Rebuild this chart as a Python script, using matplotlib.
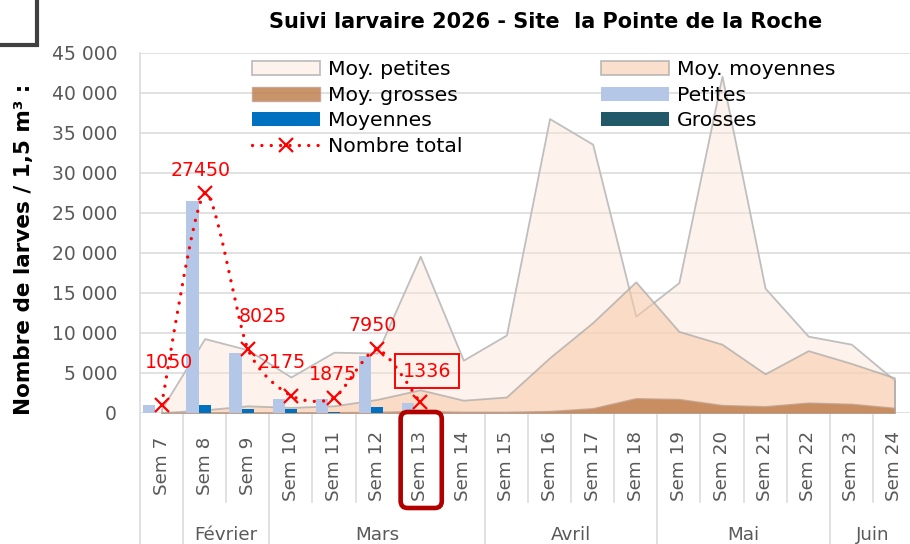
import numpy as np
import matplotlib
matplotlib.use('Agg')
import matplotlib.pyplot as plt
import matplotlib.transforms as mtransforms
from matplotlib.path import Path
from matplotlib.patches import PathPatch, Rectangle, FancyBboxPatch
from matplotlib.lines import Line2D
from matplotlib.colors import to_rgba

plt.rcParams['font.family'] = ['DejaVu Sans']

# données
weeks = [f"Sem {w}" for w in range(7, 25)]
months = ['', 'Février', 'Mars', 'Avril', 'Mai', 'Juin']
month_sizes = [1, 2, 5, 4, 4, 2]

moy_petites = [500, 9300, 7900, 4500, 7600, 7500, 19600, 6600, 9750,
               36800, 33600, 12100, 16300, 42100, 15600, 9600, 8600, 4100]
moy_moyennes = [50, 400, 900, 700, 900, 1700, 2900, 1600, 2000,
                6900, 11300, 16400, 10200, 8600, 4900, 7800, 6200, 4400]
moy_grosses = [0, 50, 100, 80, 100, 150, 250, 150, 150,
               250, 600, 1850, 1750, 1000, 850, 1300, 1150, 650]

petites = [1000, 26500, 7500, 1725, 1800, 7150, 1250]
moyennes = [50, 950, 525, 450, 75, 800, 86]
grosses = [0, 0, 0, 0, 0, 0, 0]
total = [1050, 27450, 8025, 2175, 1875, 7950, 1336]
highlight = 'Sem 13'

# décalage des étiquettes (pixels)
label_offsets = [(8, 42), (-4, 23), (15, 32), (-9, 33), (-1, 23), (-4, 24), (7, 31)]

W, H = 910, 544
fig = plt.figure(figsize=(W / 100, H / 100), dpi=100)
ax = fig.add_axes([140 / W, 1 - 413 / H, 776 / W, 360 / H])

x = np.arange(len(weeks))
xb = np.arange(len(total))
grid_c = '#D9D9D9'
txt_c = '#595959'

# zones (moyennes)
a1 = ax.fill_between(x, 0, moy_petites, facecolor=to_rgba('#FBE5D6', 0.45),
                     edgecolor='#BFBFBF', lw=1.3, zorder=1)
a2 = ax.fill_between(x, 0, moy_moyennes, facecolor=to_rgba('#F8CBAD', 0.6),
                     edgecolor=to_rgba('#A6A6A6', 0.7), lw=1.3, zorder=1.1)
a3 = ax.fill_between(x, 0, moy_grosses, facecolor=to_rgba('#C0814F', 0.85),
                     edgecolor=to_rgba('#C0A090', 0.8), lw=1.0, zorder=1.2)

# barres
bw = 0.283
b1 = ax.bar(xb - bw, petites, bw, color='#B4C7E7', zorder=3)
b2 = ax.bar(xb, moyennes, bw, color='#0070C0', zorder=3)
b3 = ax.bar(xb + bw, grosses, bw, color='#215968', zorder=3)

# courbe lissée (Bezier)
k = 1 / 8
pts = np.column_stack([xb, total]).astype(float)
verts = [pts[0]]
codes = [Path.MOVETO]
n = len(pts)
for i in range(n - 1):
    p0 = pts[max(i - 1, 0)]
    p1 = pts[i]
    p2 = pts[i + 1]
    p3 = pts[min(i + 2, n - 1)]
    verts += [p1 + (p2 - p0) * k, p2 - (p3 - p1) * k, p2]
    codes += [Path.CURVE4] * 3
red = '#FF0000'
dots = (0, (0.01, 2.8))
curve = PathPatch(Path(verts, codes), fill=False, edgecolor=red, lw=2.4,
                  linestyle=dots, capstyle='round', zorder=4)
ax.add_patch(curve)
ax.plot(xb, total, ls='none', marker='x', ms=10, mew=1.6, color=red, zorder=5)

for xi, v, (dx, dy) in zip(xb, total, label_offsets):
    t = ax.annotate(str(v), (xi, v), xytext=(dx, dy), textcoords='offset pixels',
                    ha='center', va='center', color=red, fontsize=13.7, zorder=6)
    if v == total[-1]:
        t.set_bbox(dict(boxstyle='square,pad=0.4', fc='none', ec=red, lw=1.4))

# axes
ax.set_xlim(-0.5, len(weeks) - 0.5)
ax.set_ylim(0, 45000)
ax.set_yticks(range(0, 45001, 5000))
ax.set_yticklabels([f"{v:,}".replace(',', ' ') for v in range(0, 45001, 5000)])
ax.tick_params(axis='y', length=0, pad=16.5, labelsize=13.5, labelcolor=txt_c)
ax.tick_params(axis='x', length=0, labelbottom=False)
ax.yaxis.grid(True, color=grid_c, lw=1.1)
ax.set_axisbelow(True)
for s in ax.spines.values():
    s.set_visible(False)

# axe des catégories sur deux niveaux
tr = mtransforms.blended_transform_factory(ax.transData, ax.transAxes)
to_ax = lambda ypx: (413 - ypx) / 360
bounds = np.cumsum([0] + month_sizes) - 0.5
for i in range(len(weeks) + 1):
    xs = i - 0.5
    y_end = to_ax(H + 2) if xs in bounds else to_ax(502)
    ax.plot([xs, xs], [1 if i == 0 else 0, y_end], transform=tr, color=grid_c,
            lw=1.1, clip_on=False, zorder=0)
for i, w in enumerate(weeks):
    ax.text(i, to_ax(466), w, rotation=90, ha='center', va='center',
            transform=tr, fontsize=13.2, color=txt_c)
for m, a, b in zip(months, bounds[:-1], bounds[1:]):
    ax.text((a + b) / 2, to_ax(535), m, ha='center', va='center',
            transform=tr, fontsize=13.2, color=txt_c)

# titre, axe y
fig.text(546 / W, 1 - 22 / H, 'Suivi larvaire 2026 - Site  la Pointe de la Roche',
         ha='center', va='center', fontsize=15, weight='bold')
fig.text(24 / W, 1 - 249 / H, 'Nombre de larves / 1,5 m³ :', rotation=90,
         ha='center', va='center', fontsize=15.5, weight='bold')

# légende
nt = Line2D([], [], color=red, lw=2.4, ls=dots, dash_capstyle='round',
            marker='x', ms=10, mew=1.6)
handles = [a1, a3, b2, nt, a2, b1, b3]
labels = ['Moy. petites', 'Moy. grosses', 'Moyennes', 'Nombre total',
          'Moy. moyennes', 'Petites', 'Grosses']
fig.legend(handles, labels, ncol=2, loc='upper left',
           bbox_to_anchor=(252 / W, 1 - 60 / H), frameon=False, fontsize=14.7,
           handlelength=3.33, handleheight=0.69, handletextpad=0.39,
           columnspacing=6.8, labelspacing=0.33, borderpad=0, borderaxespad=0)

# cadres
fig.add_artist(Rectangle((-10 / W, 1 - 44.5 / H), 47 / W, 60 / H, fill=False,
                         ec='#404040', lw=3, transform=fig.transFigure))
fig.canvas.draw()
hi = weeks.index(highlight)
cx0 = ax.transData.transform((hi - 0.5, 0))[0]
cx1 = ax.transData.transform((hi + 0.5, 0))[0]
fig.add_artist(FancyBboxPatch((cx0 + 2, H - 508), cx1 - cx0 - 2, 96,
                              boxstyle='round,pad=0,rounding_size=7', fill=False,
                              ec='#B00000', lw=3.3, transform=None))

fig.savefig('out.png', dpi=100)
